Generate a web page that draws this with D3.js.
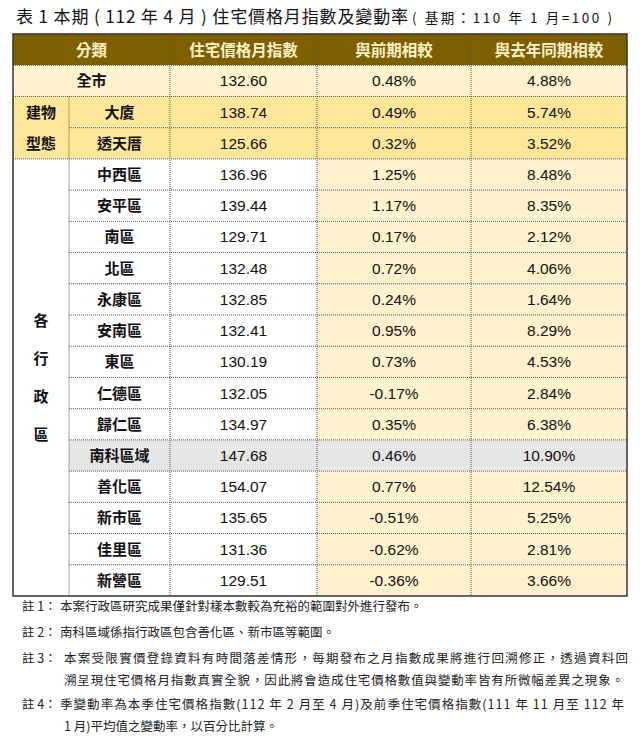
<!DOCTYPE html>
<html><head><meta charset="utf-8">
<script src="https://cdn.jsdelivr.net/npm/d3@7"></script>
<style>body{margin:0;background:#fff}svg{display:block}</style>
</head><body>
<svg id="c" width="640" height="744"></svg>
<script>
const headers = ["分類","住宅價格月指數","與前期相較","與去年同期相較"];
const categories = ["全市","大廈","透天厝","中西區","安平區","南區","北區","永康區","安南區","東區","仁德區","歸仁區","南科區域","善化區","新市區","佳里區","新營區"];
const indexValues = [132.60,138.74,125.66,136.96,139.44,129.71,132.48,132.85,132.41,130.19,132.05,134.97,147.68,154.07,135.65,131.36,129.51];
const momChange = [0.48,0.49,0.32,1.25,1.17,0.17,0.72,0.24,0.95,0.73,-0.17,0.35,0.46,0.77,-0.51,-0.62,-0.36];
const yoyChange = [4.88,5.74,3.52,8.48,8.35,2.12,4.06,1.64,8.29,4.53,2.84,6.38,10.90,12.54,5.25,2.81,3.66];
const groups = [{label:"建物型態",rows:[1,2],lines:["建物","型態"]},{label:"各行政區",rows:[3,16],lines:["各","行","政","區"]}];
const notes = [
 ["註 1：","本案行政區研究成果僅針對樣本數較為充裕的範圍對外進行發布。"],
 ["註 2：","南科區域係指行政區包含善化區、新市區等範圍。"],
 ["註  3：","本案受限實價登錄資料有時間落差情形，每期發布之月指數成果將進行回溯修正，透過資料回","溯呈現住宅價格月指數真實全貌，因此將會造成住宅價格數值與變動率皆有所微幅差異之現象。"],
 ["註 4：","季變動率為本季住宅價格指數(112 年 2 月至 4 月)及前季住宅價格指數(111 年 11 月至 112 年","1 月)平均值之變動率，以百分比計算。"]
];

const svg = d3.select("#c");
const font = "'Liberation Sans','Noto Sans CJK TC',sans-serif";
const cjk = "'Noto Sans CJK TC','Liberation Sans',sans-serif";
const colX = [13,69,170,317,471,627];
const y = d3.scaleBand().domain(d3.range(-1, categories.length)).range([34,596]);
const rh = y.bandwidth();

// title
svg.append("text").attr("x",16).attr("y",23).attr("font-family",cjk).attr("fill","#111").attr("font-size",17)
 .attr("textLength",392).attr("lengthAdjust","spacing").text("表 1 本期 ( 112 年 4 月 ) 住宅價格月指數及變動率");
svg.append("text").attr("x",412).attr("y",23).attr("font-family",cjk).attr("fill","#111").attr("font-size",13.5)
 .attr("textLength",200).attr("lengthAdjust","spacing").text("( 基期：110 年 1 月=100 )");

function bg(i,c){
  if(i===0) return "#FFF2CC";
  if(i<=2) return "#FFE699";
  if(i===12) return "#E7E6E6";
  return c>=2 ? "#FFF2CC" : "#FFFFFF";
}
// header
svg.append("rect").attr("x",colX[0]).attr("y",y(-1)).attr("width",colX[5]-colX[0]).attr("height",rh).attr("fill","#7F6000");
const hx=[(colX[0]+colX[2])/2,(colX[2]+colX[3])/2,(colX[3]+colX[4])/2,(colX[4]+colX[5])/2];
svg.selectAll(".h").data(headers).join("text").attr("x",(d,i)=>hx[i]).attr("y",y(-1)+rh/2+6)
 .attr("text-anchor","middle").attr("font-family",cjk).attr("font-weight","bold").attr("font-size",15.5).attr("fill","#FFF2CC").text(d=>d);

// cells
categories.forEach((cat,i)=>{
  const x0 = i===0 ? colX[0] : colX[1];
  const cells=[[x0,colX[2]],[colX[2],colX[3]],[colX[3],colX[4]],[colX[4],colX[5]]];
  cells.forEach((c,k)=>{
    svg.append("rect").attr("x",c[0]).attr("y",y(i)).attr("width",c[1]-c[0]).attr("height",rh).attr("fill",bg(i,k));
  });
  const vals=[cat,indexValues[i].toFixed(2),momChange[i].toFixed(2)+"%",yoyChange[i].toFixed(2)+"%"];
  vals.forEach((v,k)=>{
    svg.append("text").attr("x",(cells[k][0]+cells[k][1])/2).attr("y",y(i)+rh/2+5.5).attr("text-anchor","middle")
     .attr("font-family",k===0?cjk:font).attr("font-weight",k===0?"bold":"normal").attr("font-size",k===0?15:15.5).attr("fill","#111").text(v);
  });
});
// group cells
groups.forEach((g,gi)=>{
  const y0=y(g.rows[0]), y1=y(g.rows[1])+rh;
  svg.append("rect").attr("x",colX[0]).attr("y",y0).attr("width",colX[1]-colX[0]).attr("height",y1-y0).attr("fill",gi===0?"#FFE699":"#FFFFFF");
  const n=g.lines.length, step=gi===0?rh:38, mid=(y0+y1)/2;
  g.lines.forEach((l,j)=>{
    svg.append("text").attr("x",(colX[0]+colX[1])/2).attr("y",mid+(j-(n-1)/2)*step+5.5).attr("text-anchor","middle")
     .attr("font-family",cjk).attr("font-weight","bold").attr("font-size",15).attr("fill","#111").text(l);
  });
});
// grid lines (dotted)
const grid=svg.append("g").attr("stroke","#555").attr("stroke-width",1).attr("stroke-dasharray","1,1");
d3.range(0,categories.length).forEach(i=>{
  const yy=y(i);
  let x0=colX[0];
  if(i===2||(i>3)) x0=colX[1];
  grid.append("line").attr("x1",x0).attr("x2",colX[5]).attr("y1",yy).attr("y2",yy);
});
[1,2,3,4].forEach(k=>{
  const ys = k===1 ? y(1) : y(-1);
  grid.append("line").attr("x1",colX[k]).attr("x2",colX[k]).attr("y1",ys).attr("y2",596);
});
svg.append("rect").attr("x",colX[0]).attr("y",34).attr("width",colX[5]-colX[0]).attr("height",562).attr("fill","none").attr("stroke","#333").attr("stroke-width",1.5);

// notes
const ny=[611,637,663,709];
notes.forEach((n,i)=>{
  svg.append("text").attr("x",22).attr("y",ny[i]).attr("font-family",cjk).attr("font-size",12.5).attr("fill","#222").text(n[0]);
  svg.append("text").attr("x",i===2?64:60).attr("y",ny[i]).attr("font-family",cjk).attr("font-size",12.5).attr("fill","#222").attr("textLength",i>=2?564:null).text(n[1]);
  if(n[2]) svg.append("text").attr("x",64).attr("y",ny[i]+22).attr("font-family",cjk).attr("font-size",12.5).attr("fill","#222").attr("textLength",i===2?560:null).text(n[2]);
});
</script>
</body></html>
